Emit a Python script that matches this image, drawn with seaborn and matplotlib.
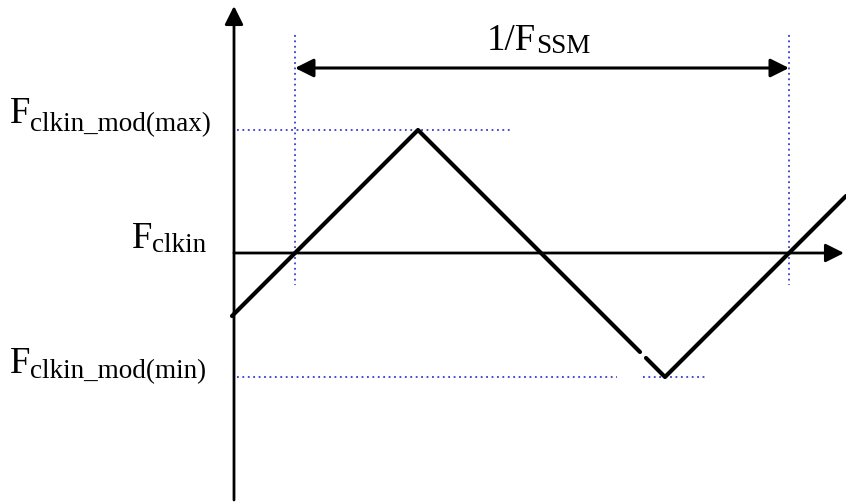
import matplotlib
matplotlib.use("Agg")
import matplotlib.pyplot as plt
import seaborn as sns

# triangle wave vertices (pixel space, y grows downward); a small break near the trough
wave1_x = [232, 418, 640]
wave1_y = [316, 130, 352]
wave2_x = [646, 665, 846]
wave2_y = [358, 377, 196]

# reference levels and period markers
axis_x = 234
axis_y = 253
f_max_y = 130
f_min_y = 377
period_x = [295, 789]
arrow_y = 68

# (main text, subscript, left x, baseline y, subscript drop)
label_main = ["F", "F", "F", "1/F"]
label_sub = ["clkin_mod(max)", "clkin", "clkin_mod(min)", "SSM"]
label_x = [10, 132, 10, 487]
label_y = [123, 248, 373, 50]
label_drop = [8, 4, 5, 3]

sns.set_style("white")
plt.rcParams["font.family"] = ["Liberation Serif", "DejaVu Serif"]
plt.rcParams["text.color"] = "black"

fig = plt.figure(figsize=(8.46, 5.04), dpi=100)
ax = fig.add_axes([0, 0, 1, 1])
ax.set_xlim(0, 846)
ax.set_ylim(504, 0)
ax.axis("off")

dot = dict(color="#3a3ad0", lw=1.3, ls=(0, (1, 2)))

# dotted guides
for px in period_x:
    ax.plot([px, px], [35, 285], **dot)
ax.plot([237, 512], [f_max_y, f_max_y], **dot)
ax.plot([237, 617], [f_min_y, f_min_y], **dot)
ax.plot([643, 708], [f_min_y, f_min_y], **dot)

# axes with arrows
ax.annotate("", xy=(axis_x, 6), xytext=(axis_x, 500),
            arrowprops=dict(arrowstyle="-|>", color="black", lw=2.0,
                            mutation_scale=28, shrinkA=0, shrinkB=0))
ax.annotate("", xy=(844, axis_y), xytext=(axis_x, axis_y),
            arrowprops=dict(arrowstyle="-|>", color="black", lw=2.0,
                            mutation_scale=28, shrinkA=0, shrinkB=0))

# period arrow
ax.annotate("", xy=(period_x[1], arrow_y), xytext=(period_x[0], arrow_y),
            arrowprops=dict(arrowstyle="<|-|>", color="black", lw=2.2,
                            mutation_scale=28, shrinkA=0, shrinkB=0))

# waveform
sns.lineplot(x=wave1_x, y=wave1_y, color="black", lw=3.0, ax=ax)
sns.lineplot(x=wave2_x, y=wave2_y, color="black", lw=3.0, ax=ax)

# labels: big letter, then a smaller, slightly lowered subscript
renderer = fig.canvas.get_renderer()
for main, sub, x, y, drop in zip(label_main, label_sub, label_x, label_y, label_drop):
    t = ax.text(x, y, main, fontsize=26.5, ha="left", va="baseline", color="black")
    bb = t.get_window_extent(renderer).transformed(ax.transData.inverted())
    ax.text(bb.x1, y + drop, sub, fontsize=19.5, ha="left", va="baseline", color="black")

fig.savefig("out.png", dpi=100)
